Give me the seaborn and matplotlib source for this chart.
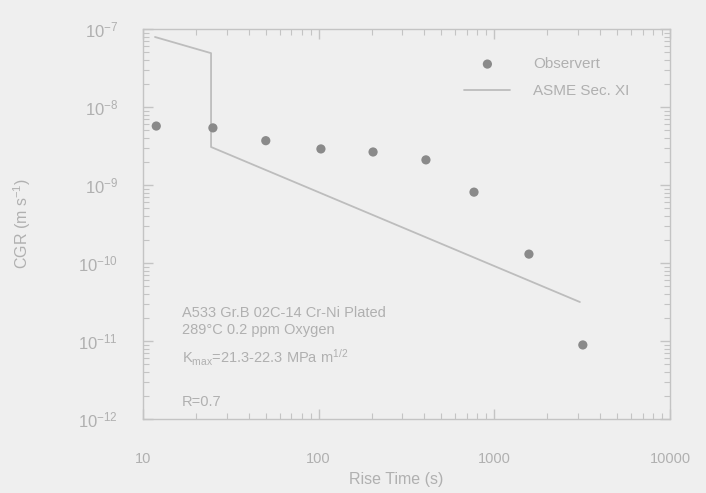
import matplotlib
matplotlib.use("Agg")
import matplotlib.pyplot as plt
import matplotlib.ticker as mticker
import numpy as np
import pandas as pd
import seaborn as sns

# Observed crack growth rates vs. rise time
rise_time_obs = [11.9, 25.0, 50.0, 103, 204, 408, 766, 1574, 3190]
cgr_obs = [5.7e-9, 5.4e-9, 3.7e-9, 2.9e-9, 2.65e-9, 2.1e-9, 8.1e-10, 1.3e-10, 8.9e-12]

# ASME Section XI reference curve (vertices)
rise_time_asme = [11.7, 24.4, 24.4, 3070]
cgr_asme = [7.9e-8, 4.9e-8, 3.07e-9, 3.16e-11]

x_ticks = [10, 100, 1000, 10000]
x_tick_labels = ["10", "100", "1000", "10000"]
y_exponents = [-12, -11, -10, -9, -8, -7]

notes = [
    "A533 Gr.B 02C-14 Cr-Ni Plated",
    "289°C 0.2 ppm Oxygen",
    r"K$_{\rm max}$=21.3-22.3 MPa m$^{1/2}$",
    "R=0.7",
]

bg = "#efefef"
ink = "#b0b0b0"
spine_col = "#c4c4c4"

sns.set_theme(style="white")
plt.rcParams["font.family"] = ["Liberation Sans", "DejaVu Sans"]
plt.rcParams["mathtext.fontset"] = "custom"
plt.rcParams["mathtext.rm"] = "Liberation Sans"
plt.rcParams["mathtext.it"] = "Liberation Sans"

fig = plt.figure(figsize=(7.06, 4.93), dpi=100, facecolor=bg)
ax = fig.add_axes([143 / 706, 1 - 419 / 493, (670 - 143) / 706, (419 - 29) / 493])
ax.set_facecolor(bg)

obs = pd.DataFrame({"rise": rise_time_obs, "cgr": cgr_obs})
asme = pd.DataFrame({"rise": rise_time_asme, "cgr": cgr_asme})

sns.lineplot(data=asme, x="rise", y="cgr", sort=False, estimator=None,
             color="#bdbdbd", linewidth=1.3, ax=ax, label="ASME Sec. XI")
sns.scatterplot(data=obs, x="rise", y="cgr", color="#8a8a8a", s=44,
                edgecolor="none", ax=ax, label="Observert", zorder=3)

ax.set_xscale("log")
ax.set_yscale("log")
ax.set_xlim(10, 10000)
ax.set_ylim(1e-12, 1e-7)

ax.set_xticks(x_ticks)
ax.set_xticklabels(x_tick_labels)
ax.set_yticks([10.0 ** e for e in y_exponents])
ax.set_yticklabels([rf"$10^{{{e}}}$" for e in y_exponents])
ax.xaxis.set_minor_locator(mticker.LogLocator(base=10, subs=np.arange(2, 10)))
ax.yaxis.set_minor_locator(mticker.LogLocator(base=10, subs=np.arange(2, 10)))
ax.xaxis.set_minor_formatter(mticker.NullFormatter())
ax.yaxis.set_minor_formatter(mticker.NullFormatter())

ax.tick_params(which="both", direction="in", top=True, right=True,
               bottom=True, left=True, color=spine_col, labelcolor=ink)
ax.tick_params(which="major", length=7, width=1)
ax.tick_params(which="minor", length=4, width=0.8)
ax.tick_params(axis="x", which="major", labelsize=10.5, pad=24)
ax.tick_params(axis="y", which="major", labelsize=12, pad=18)

for sp in ax.spines.values():
    sp.set_color(spine_col)
    sp.set_linewidth(1.0)

ax.set_xlabel("Rise Time (s)", color=ink, fontsize=11.5)
ax.set_ylabel(r"CGR (m s$^{-1}$)", color=ink, fontsize=11.5)
ax.xaxis.set_label_coords(0.48, -0.135)
ax.yaxis.set_label_coords(-0.208, 0.5)

# Scatter entry first, then the curve
h, l = ax.get_legend_handles_labels()
order = [l.index("Observert"), l.index("ASME Sec. XI")]
leg = ax.legend([h[i] for i in order], [l[i] for i in order],
                loc="upper left", bbox_to_anchor=(0.61, 0.928), frameon=False,
                fontsize=11, handlelength=3.0, handletextpad=1.5,
                labelspacing=0.85, borderpad=0, borderaxespad=0)
for t in leg.get_texts():
    t.set_color(ink)

note_y = [313, 330, 358, 402]
for txt, ypx in zip(notes, note_y):
    ax.text((182 - 143) / 527, (419 - ypx) / 390, txt, transform=ax.transAxes,
            color=ink, fontsize=10.5, va="center", ha="left")

fig.savefig("out.png", dpi=100, facecolor=bg)
